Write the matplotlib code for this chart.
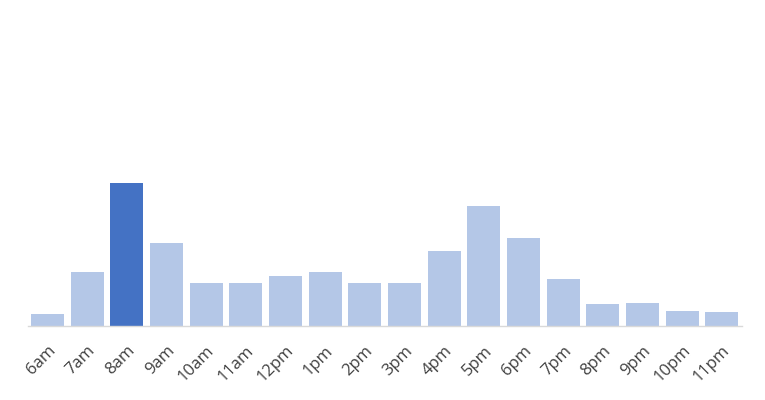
import matplotlib
matplotlib.use("Agg")
import matplotlib.pyplot as plt

# Daten
hours = ["6am", "7am", "8am", "9am", "10am", "11am", "12pm", "1pm", "2pm",
         "3pm", "4pm", "5pm", "6pm", "7pm", "8pm", "9pm", "10pm", "11pm"]
values = [11.7, 53.7, 142.7, 83, 43.3, 43.3, 50, 54, 43,
          43, 75, 120, 88, 47.3, 21.7, 23, 15.3, 14]
highlight = "8am"

light = "#b4c7e7"
dark = "#4472c4"
colors = [dark if h == highlight else light for h in hours]

plt.rcParams['font.family'] = ['Open Sans', 'DejaVu Sans']

fig = plt.figure(figsize=(7.65, 4.0), dpi=100)
ax = fig.add_axes([27.7 / 765, 74 / 400, (741.8 - 27.7) / 765, 326 / 400])

x = range(len(hours))
ax.bar(x, values, width=0.83, color=colors)
ax.set_xlim(-0.5, len(hours) - 0.5)
ax.set_ylim(0, 326)

ax.set_xticks(list(x))
ax.set_xticklabels(hours, rotation=45, ha="right", rotation_mode="anchor",
                   fontsize=12, color="#404040")
ax.tick_params(axis="x", length=0, pad=12)
ax.set_yticks([])

for s in ["top", "right", "left"]:
    ax.spines[s].set_visible(False)
ax.spines["bottom"].set_color("#d9d9d9")
ax.spines["bottom"].set_linewidth(1)

fig.savefig("out.png", dpi=100)
